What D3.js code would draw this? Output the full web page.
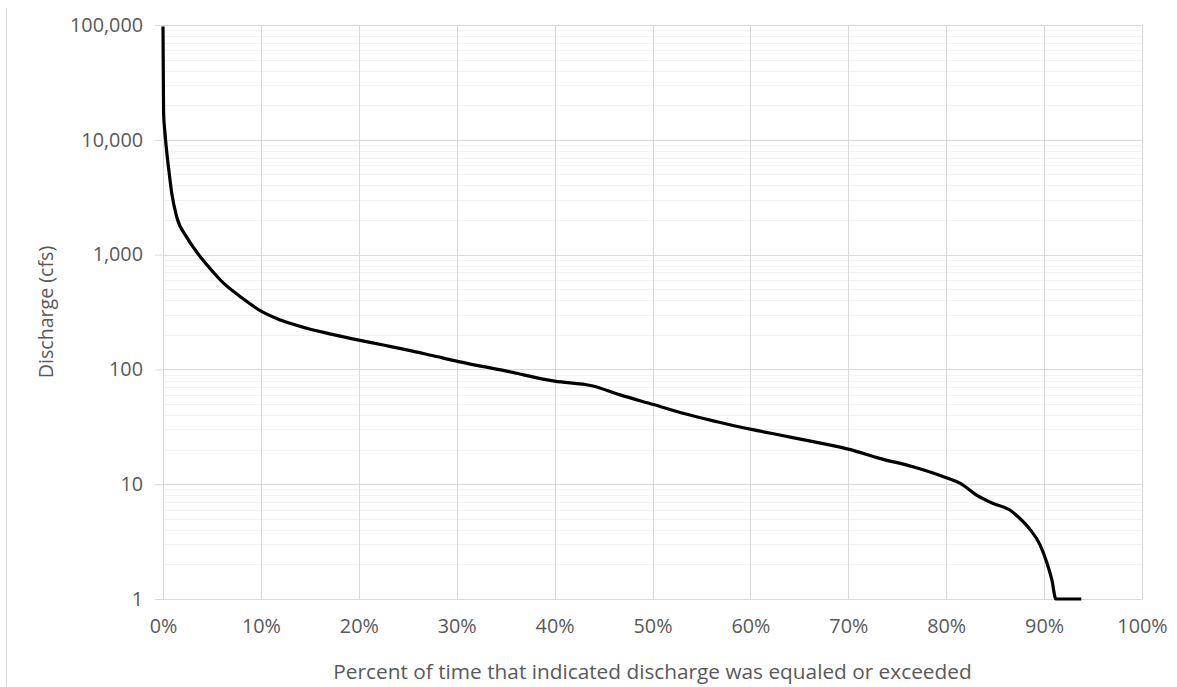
<!DOCTYPE html>
<html>
<head>
<meta charset="utf-8">
<script src="https://cdn.jsdelivr.net/npm/d3@7"></script>
<style>
  html, body { margin: 0; padding: 0; background: #fff; }
  svg { display: block; }
  text { font-family: "Open Sans", "Liberation Sans", sans-serif; fill: #595959; }
</style>
</head>
<body>
<svg id="chart" width="1177" height="687"></svg>
<script>
// Flow-duration curve: percent of time a discharge is equaled or exceeded
const exceedancePct = [0.00, 0.03, 0.06, 0.20, 0.40, 0.60, 0.89, 1.40, 2.42, 3.20, 4.12, 5.10, 6.16,
  7.90, 10.1, 12.0, 14.7, 17.5, 20.0, 22.5, 24.9, 27.5, 30.2, 35.0, 40.0, 43.8, 46.7, 50.1, 53.1,
  56.6, 60.1, 63.0, 66.4, 70.1, 73.2, 76.6, 80.0, 81.4, 83.1, 84.8, 86.5, 87.5, 88.6, 89.6, 90.3,
  90.8, 91.2, 93.8];
const dischargeCfs = [97000, 40000, 17000, 11500, 7600, 5400, 3440, 2130, 1420, 1125, 887, 708, 566,
  430, 318, 269, 228, 200, 180, 163, 148, 132, 117, 97, 79, 72, 60, 49.4, 41.5,
  35, 30, 26.8, 23.5, 20.1, 16.8, 14.2, 11.4, 10.2, 8.05, 6.8, 5.96, 5.05, 4.0, 2.95, 2.05,
  1.46, 1.0, 1.0];

const xTickValues = [0, 10, 20, 30, 40, 50, 60, 70, 80, 90, 100];
const yTickValues = [1, 10, 100, 1000, 10000, 100000];
const xTitle = "Percent of time that indicated discharge was equaled or exceeded";
const yTitle = "Discharge (cfs)";

const svg = d3.select("#chart");
const plot = { left: 163, right: 1142, top: 25, bottom: 599 };
const font = '"Open Sans", "Liberation Sans", sans-serif';

const x = d3.scaleLinear().domain([0, 100]).range([plot.left, plot.right]);
const y = d3.scaleLog().domain([1, 100000]).range([plot.bottom, plot.top]);

// outer chart border (left edge)
svg.append("line")
  .attr("x1", 6.5).attr("x2", 6.5).attr("y1", 8).attr("y2", 687)
  .attr("stroke", "#d9d9d9").attr("stroke-width", 1);

// minor horizontal gridlines (2..9 within each decade)
const minor = [];
for (let d = 1; d < 100000; d *= 10) for (let k = 2; k <= 9; k++) minor.push(d * k);
svg.append("g").selectAll("line").data(minor).join("line")
  .attr("x1", plot.left).attr("x2", plot.right)
  .attr("y1", v => Math.round(y(v)) + 0.5).attr("y2", v => Math.round(y(v)) + 0.5)
  .attr("stroke", "#f2f2f2").attr("stroke-width", 1);

// major horizontal gridlines
svg.append("g").selectAll("line").data(yTickValues).join("line")
  .attr("x1", plot.left).attr("x2", plot.right)
  .attr("y1", v => Math.round(y(v)) + 0.5).attr("y2", v => Math.round(y(v)) + 0.5)
  .attr("stroke", "#d9d9d9").attr("stroke-width", 1);

// vertical gridlines
svg.append("g").selectAll("line").data(xTickValues).join("line")
  .attr("x1", v => Math.round(x(v)) + 0.5).attr("x2", v => Math.round(x(v)) + 0.5)
  .attr("y1", plot.top).attr("y2", plot.bottom)
  .attr("stroke", "#d9d9d9").attr("stroke-width", 1);

// y axis: ticks and labels
const yAxis = d3.axisLeft(y).tickValues(yTickValues).tickSize(8).tickPadding(12)
  .tickFormat(d3.format(","));
const gy = svg.append("g").attr("transform", `translate(${plot.left},0)`).call(yAxis);
gy.select(".domain").remove();
gy.selectAll(".tick line").attr("stroke", "#d9d9d9");
gy.selectAll(".tick text").attr("font-size", 19.8).attr("fill", "#595959")
  .style("font-family", font);

// x axis: labels only
const xAxis = d3.axisBottom(x).tickValues(xTickValues).tickSize(0).tickPadding(20)
  .tickFormat(d => d + "%");
const gx = svg.append("g").attr("transform", `translate(0,${plot.bottom})`).call(xAxis);
gx.select(".domain").attr("stroke", "#d9d9d9");
gx.selectAll(".tick text").attr("font-size", 19.8).attr("fill", "#595959")
  .style("font-family", font);

// the duration curve
const pts = exceedancePct.map((p, i) => [p, dischargeCfs[i]]);
svg.append("path")
  .datum(pts)
  .attr("fill", "none")
  .attr("stroke", "#000")
  .attr("stroke-width", 3.2)
  .attr("stroke-linejoin", "round")
  .attr("d", d3.line().curve(d3.curveMonotoneX).x(d => x(d[0])).y(d => y(d[1])));

// axis titles
svg.append("text")
  .attr("x", (plot.left + plot.right) / 2).attr("y", 679)
  .attr("text-anchor", "middle").attr("font-size", 20.8)
  .text(xTitle);
svg.append("text")
  .attr("transform", `translate(53,${(plot.top + plot.bottom) / 2}) rotate(-90)`)
  .attr("text-anchor", "middle").attr("font-size", 19.6)
  .text(yTitle);
</script>
</body>
</html>
